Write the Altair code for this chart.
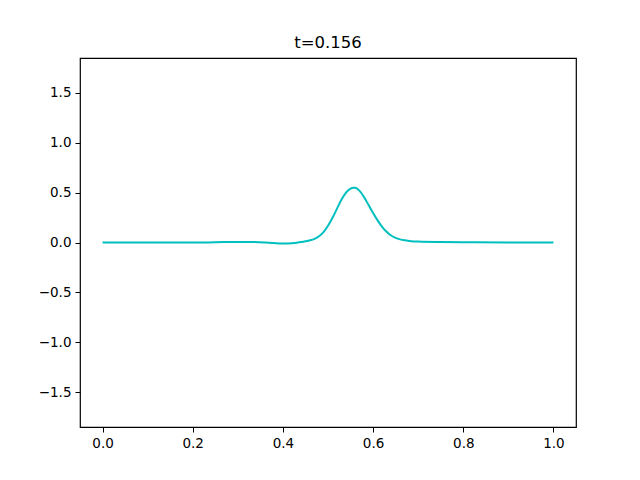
import altair as alt
import pandas as pd

x_vals = [0.0, 0.05, 0.10, 0.15, 0.20, 0.25, 0.30, 0.33, 0.36, 0.38, 0.40, 0.42, 0.44,
          0.45, 0.46, 0.47, 0.48, 0.49, 0.50, 0.51, 0.52, 0.53, 0.54, 0.55, 0.556,
          0.56, 0.57, 0.58, 0.59, 0.60, 0.61, 0.62, 0.63, 0.64, 0.65, 0.66, 0.67,
          0.68, 0.70, 0.75, 0.80, 0.90, 1.0]
y_vals = [0.0, 0.0, 0.0, 0.0, 0.0, 0.002, 0.006, 0.005, 0.0, -0.006, -0.01, -0.008, 0.004,
          0.012, 0.022, 0.037, 0.063, 0.105, 0.168, 0.248, 0.34, 0.43, 0.50, 0.54, 0.55,
          0.548, 0.518, 0.455, 0.375, 0.295, 0.222, 0.157, 0.107, 0.07, 0.046, 0.031, 0.022,
          0.016, 0.009, 0.004, 0.002, 0.0, 0.0]
x_ticks = [0.0, 0.2, 0.4, 0.6, 0.8, 1.0]
y_ticks = [-1.5, -1.0, -0.5, 0.0, 0.5, 1.0, 1.5]
title_text = "t=0.156"

df = pd.DataFrame({"x": x_vals, "y": y_vals})

font = "DejaVu Sans"

chart = alt.Chart(df).mark_line(color="#00bfbf", strokeWidth=2, interpolate="monotone").encode(
    x=alt.X("x:Q", scale=alt.Scale(domain=[-0.05, 1.05], nice=False, zero=False),
            axis=alt.Axis(values=x_ticks, format=".1f", title=None, grid=False,
                          tickSize=5, tickColor="black", domain=False,
                          labelFont=font, labelFontSize=13.5, labelColor="black",
                          labelPadding=4, labelFlush=False)),
    y=alt.Y("y:Q", scale=alt.Scale(domain=[-1.85, 1.85], nice=False, zero=False),
            axis=alt.Axis(values=y_ticks, format=".1f", title=None, grid=False,
                          tickSize=5, tickColor="black", domain=False,
                          labelFont=font, labelFontSize=13.5, labelColor="black",
                          labelPadding=4, labelFlush=False,
                          labelExpr="replace(datum.label, '-', '\u2212')")),
).properties(
    width=496, height=369,
    title=alt.TitleParams(title_text, font=font, fontSize=16.5, fontWeight="normal",
                          color="black", anchor="middle", offset=7),
    autosize=alt.AutoSizeParams(type="none"),
    padding={"left": 72, "top": 50, "right": 56, "bottom": 45},
    background="white",
).configure_view(stroke="black", strokeWidth=1.2)

chart.save("out.html", embed_options={"renderer": "svg", "actions": False})
